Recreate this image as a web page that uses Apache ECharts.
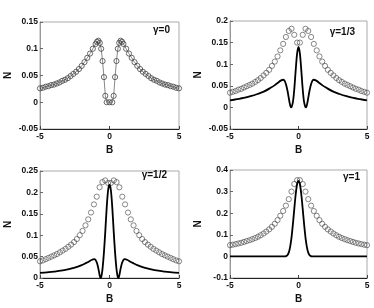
<!DOCTYPE html>
<html><head><meta charset="utf-8">
<script src="https://cdn.jsdelivr.net/npm/echarts@6/dist/echarts.min.js"></script>
<style>html,body{margin:0;padding:0;background:#fff}#c{width:374px;height:308px}</style>
</head><body><div id="c"></div>
<script>
// ---- data ----
// Panel 1 (gamma=0) B grid and N values (circles joined by thin line)
const B1 = [-5,-4.8,-4.6,-4.4,-4.2,-4,-3.8,-3.6,-3.4,-3.2,-3,-2.8,-2.6,-2.4,-2.2,-2,-1.8,-1.6,-1.4,-1.2,-1,-0.9,-0.8,-0.7,-0.6,-0.5,-0.4,-0.3,-0.2,0,0.2,0.3,0.4,0.5,0.6,0.7,0.8,0.9,1,1.2,1.4,1.6,1.8,2,2.2,2.4,2.6,2.8,3,3.2,3.4,3.6,3.8,4,4.2,4.4,4.6,4.8,5];
const N1 = [0.026,0.027,0.029,0.030,0.032,0.033,0.035,0.037,0.040,0.042,0.045,0.049,0.053,0.057,0.062,0.068,0.075,0.083,0.091,0.100,0.109,0.113,0.115,0.111,0.100,0.077,0.047,0.012,0,0,0,0.012,0.047,0.077,0.100,0.111,0.115,0.113,0.109,0.100,0.091,0.083,0.075,0.068,0.062,0.057,0.053,0.049,0.045,0.042,0.040,0.037,0.035,0.033,0.032,0.030,0.029,0.027,0.026];

// Marker grid for panels 2-4
const Bm = [-5.00,-4.80,-4.59,-4.39,-4.18,-3.98,-3.78,-3.57,-3.37,-3.16,-2.96,-2.76,-2.55,-2.35,-2.14,-1.94,-1.73,-1.53,-1.33,-1.12,-0.92,-0.71,-0.51,-0.31,-0.10,0.10,0.31,0.51,0.71,0.92,1.12,1.33,1.53,1.73,1.94,2.14,2.35,2.55,2.76,2.96,3.16,3.37,3.57,3.78,3.98,4.18,4.39,4.59,4.80,5.00];
const N2m = [0.034,0.036,0.038,0.041,0.043,0.046,0.049,0.052,0.055,0.059,0.063,0.068,0.074,0.080,0.087,0.096,0.106,0.118,0.132,0.147,0.163,0.177,0.182,0.168,0.150,0.150,0.168,0.182,0.177,0.163,0.147,0.132,0.118,0.106,0.096,0.087,0.080,0.074,0.068,0.063,0.059,0.055,0.052,0.049,0.046,0.043,0.041,0.038,0.036,0.034];
const N3m = [0.039,0.041,0.044,0.047,0.050,0.053,0.056,0.060,0.064,0.068,0.073,0.078,0.084,0.091,0.100,0.110,0.123,0.137,0.153,0.172,0.190,0.212,0.224,0.228,0.222,0.222,0.228,0.224,0.212,0.190,0.172,0.153,0.137,0.123,0.110,0.100,0.091,0.084,0.078,0.073,0.068,0.064,0.060,0.056,0.053,0.050,0.047,0.044,0.041,0.039];
const N4m = [0.052,0.054,0.057,0.060,0.063,0.067,0.071,0.075,0.080,0.085,0.091,0.098,0.106,0.115,0.125,0.137,0.151,0.168,0.188,0.210,0.235,0.265,0.300,0.335,0.353,0.353,0.335,0.300,0.265,0.235,0.210,0.188,0.168,0.151,0.137,0.125,0.115,0.106,0.098,0.091,0.085,0.080,0.075,0.071,0.067,0.063,0.060,0.057,0.054,0.052];

// Solid-line grid for panels 2-4
const Bl = [-5,-4.5,-4,-3.5,-3,-2.5,-2,-1.75,-1.5,-1.3,-1.1,-1,-0.9,-0.8,-0.7,-0.65,-0.6,-0.55,-0.5,-0.4,-0.3,-0.2,-0.1,0,0.1,0.2,0.3,0.4,0.5,0.55,0.6,0.65,0.7,0.8,0.9,1,1.1,1.3,1.5,1.75,2,2.5,3,3.5,4,4.5,5];
const N2l = [0.016,0.019,0.022,0.026,0.031,0.037,0.046,0.051,0.057,0.062,0.064,0.061,0.052,0.038,0.020,0.011,0.004,0.000,0.001,0.014,0.045,0.088,0.125,0.140,0.125,0.088,0.045,0.014,0.001,0.000,0.004,0.011,0.020,0.038,0.052,0.061,0.064,0.062,0.057,0.051,0.046,0.037,0.031,0.026,0.022,0.019,0.016];
const N3l = [0.012,0.013,0.015,0.017,0.020,0.024,0.030,0.034,0.038,0.042,0.044,0.042,0.035,0.022,0.005,0.000,0.002,0.010,0.022,0.060,0.110,0.165,0.205,0.218,0.205,0.165,0.110,0.060,0.022,0.010,0.002,0.000,0.005,0.022,0.035,0.042,0.044,0.042,0.038,0.034,0.030,0.024,0.020,0.017,0.015,0.013,0.012];
const N4l = [0,0,0,0,0,0,0,0,0,0,0,0,0.001,0.006,0.020,0.032,0.048,0.068,0.093,0.155,0.225,0.290,0.335,0.350,0.335,0.290,0.225,0.155,0.093,0.068,0.048,0.032,0.020,0.006,0.001,0,0,0,0,0,0,0,0,0,0,0,0];

const labels = ['γ=0','γ=1/3','γ=1/2','γ=1'];
const yMin = [-0.05,-0.05,0,-0.1], yMax = [0.15,0.2,0.25,0.4], yStep = [0.05,0.05,0.05,0.1];

// ---- chart ----
const zip = (xs, ys) => xs.map((x, i) => [x, ys[i]]);
const grids = [
  {left:40, top:22, width:139, height:107},
  {left:230, top:21, width:137, height:108},
  {left:40, top:171, width:139, height:107},
  {left:230, top:170, width:137, height:108}
];
const FONT = 'Liberation Sans';
const lblStyle = {color:'#111', fontSize:8.5, fontWeight:'bold', fontFamily:FONT};

const xAxis = grids.map((g, i) => ({
  type:'value', gridIndex:i, min:-5, max:5, interval:5,
  name:'B', nameLocation:'middle', nameGap:16,
  nameTextStyle:{color:'#111', fontSize:10, fontWeight:'bold', fontFamily:FONT},
  axisLine:{show:true, onZero:false, lineStyle:{color:'#222', width:1}},
  axisTick:{show:true, inside:true, length:3, lineStyle:{color:'#444'}},
  axisLabel:Object.assign({margin:3, formatter:v => String(v)}, lblStyle),
  splitLine:{show:false}
}));
const yAxis = grids.map((g, i) => ({
  type:'value', gridIndex:i, min:yMin[i], max:yMax[i], interval:yStep[i],
  name:'N', nameLocation:'middle', nameGap:27, nameRotate:90,
  nameTextStyle:{color:'#111', fontSize:10, fontWeight:'bold', fontFamily:FONT},
  axisLine:{show:true, onZero:false, lineStyle:{color:'#999', width:1}},
  axisTick:{show:true, inside:true, length:3, lineStyle:{color:'#666'}},
  axisLabel:Object.assign({margin:2, formatter:v => String(+v.toFixed(2))}, lblStyle),
  splitLine:{show:false}
}));

const circ = {symbol:'circle', symbolSize:5.2,
  itemStyle:{color:'rgba(255,255,255,0)', borderColor:'#444', borderWidth:0.8}};

const series = [
  Object.assign({type:'line', xAxisIndex:0, yAxisIndex:0, data:zip(B1, N1),
    lineStyle:{color:'#555', width:0.7}, showSymbol:true, clip:false, animation:false}, circ),
  Object.assign({type:'scatter', xAxisIndex:1, yAxisIndex:1, data:zip(Bm, N2m), clip:false, animation:false}, circ),
  {type:'line', xAxisIndex:1, yAxisIndex:1, data:zip(Bl, N2l), showSymbol:false, smooth:0.3,
    lineStyle:{color:'#000', width:1.8}, animation:false},
  Object.assign({type:'scatter', xAxisIndex:2, yAxisIndex:2, data:zip(Bm, N3m), clip:false, animation:false}, circ),
  {type:'line', xAxisIndex:2, yAxisIndex:2, data:zip(Bl, N3l), showSymbol:false, smooth:0.3,
    lineStyle:{color:'#000', width:1.8}, animation:false},
  Object.assign({type:'scatter', xAxisIndex:3, yAxisIndex:3, data:zip(Bm, N4m), clip:false, animation:false}, circ),
  {type:'line', xAxisIndex:3, yAxisIndex:3, data:zip(Bl, N4l), showSymbol:false, smooth:0.3,
    lineStyle:{color:'#000', width:1.8}, animation:false}
];

const labelPos = [[170,30],[355,32],[167,175],[360,177]];
const graphic = labels.map((t, i) => ({
  type:'text', x:labelPos[i][0], y:labelPos[i][1],
  style:{text:t, fill:'#111', font:'bold 10px "Liberation Sans"', textAlign:'right', textVerticalAlign:'middle'}
}));

const chart = echarts.init(document.getElementById('c'), null, {renderer:'canvas'});
chart.setOption({
  animation:false,
  grid: grids.map(g => Object.assign({show:true, borderColor:'#aaa', borderWidth:1, backgroundColor:'transparent'}, g)),
  xAxis, yAxis, series, graphic
});
</script></body></html>
